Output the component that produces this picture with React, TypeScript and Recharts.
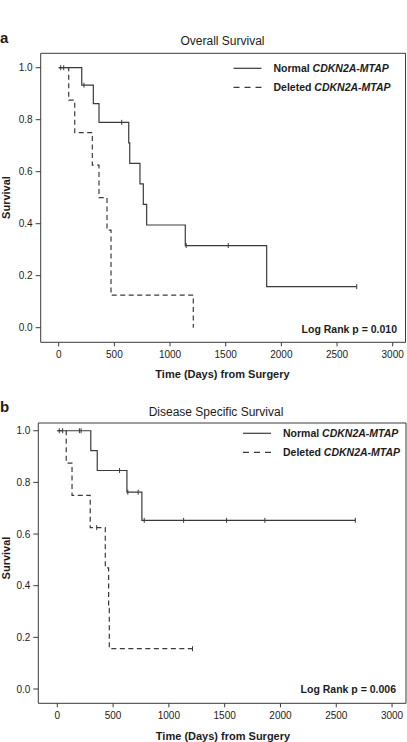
import React from 'react';
import { ComposedChart, Line, Scatter, XAxis, YAxis, ReferenceArea } from 'recharts';

// ---------- shared axis / label data ----------
const xTicks = [0, 500, 1000, 1500, 2000, 2500, 3000];
const yTicks = [0, 0.2, 0.4, 0.6, 0.8, 1.0];
const groupNames = ['Normal', 'Deleted'];
const geneName = 'CDKN2A-MTAP';
const panelLetters = ['a', 'b'];
const panelTitles = ['Overall Survival', 'Disease Specific Survival'];
const pValues = ['0.010', '0.006'];
const xAxisTitle = 'Time (Days) from Surgery';
const yAxisTitle = 'Survival';

// ---------- panel a: overall survival ----------
const aNormalTime = [0, 207, 311, 362, 629, 638, 730, 760, 790, 1137, 1868, 2677];
const aNormalSurv = [1, 0.933, 0.862, 0.79, 0.711, 0.632, 0.553, 0.474, 0.395, 0.316, 0.158, 0.158];
const aNormalCensorTime = [18, 45, 227, 566, 1145, 1523, 2677];
const aNormalCensorSurv = [1, 1, 0.933, 0.79, 0.316, 0.316, 0.158];
const aDeletedTime = [0, 90, 144, 302, 362, 434, 470, 1209];
const aDeletedSurv = [1, 0.875, 0.75, 0.625, 0.5, 0.375, 0.125, 0];
const aDeletedCensorTime: number[] = [];
const aDeletedCensorSurv: number[] = [];

// ---------- panel b: disease specific survival ----------
const bNormalTime = [0, 300, 358, 624, 758, 2671];
const bNormalSurv = [1, 0.923, 0.846, 0.762, 0.653, 0.653];
const bNormalCensorTime = [18, 48, 198, 213, 558, 632, 725, 779, 1132, 1517, 1860, 2671];
const bNormalCensorSurv = [1, 1, 1, 1, 0.846, 0.762, 0.762, 0.653, 0.653, 0.653, 0.653, 0.653];
const bDeletedTime = [0, 80, 132, 295, 430, 460, 466, 1212];
const bDeletedSurv = [1, 0.875, 0.75, 0.625, 0.469, 0.3125, 0.156, 0.156];
const bDeletedCensorTime = [353, 1212];
const bDeletedCensorSurv = [0.625, 0.156];

const zip = (t: number[], s: number[]) => t.map((v, i) => ({ t: v, s: s[i] }));

const FONT = '"Liberation Sans", Arial, Helvetica, sans-serif';
const INK = '#1c1c1c';
const LINE = '#3a3a3a';
const DASH = '5 3.5';

const Censor = (props: any) => {
  const { cx, cy } = props;
  if (cx == null || cy == null) return null;
  return <path d={`M${cx},${cy - 2.5}V${cy + 2.5}`} stroke={LINE} strokeWidth={1} />;
};

type PanelProps = {
  top: number;
  height: number;
  margin: { top: number; right: number; bottom: number; left: number };
  yAxisWidth: number;
  xDomain: [number, number];
  yDomain: [number, number];
  normal: { t: number; s: number }[];
  normalCensor: { t: number; s: number }[];
  deleted: { t: number; s: number }[];
  deletedCensor: { t: number; s: number }[];
};

const tickStyle = { fontSize: 10, fill: INK, fontFamily: FONT };

function Panel(p: PanelProps) {
  return (
    <div style={{ position: 'absolute', left: 0, top: p.top }}>
      <ComposedChart width={407} height={p.height} margin={p.margin}>
        <XAxis
          type="number"
          dataKey="t"
          domain={p.xDomain}
          allowDataOverflow
          ticks={xTicks}
          interval={0}
          axisLine={false}
          tickLine={{ stroke: LINE }}
          tickSize={4}
          tickMargin={5}
          height={30}
          tick={tickStyle}
        />
        <YAxis
          type="number"
          dataKey="s"
          domain={p.yDomain}
          allowDataOverflow
          ticks={yTicks}
          interval={0}
          axisLine={false}
          tickLine={{ stroke: LINE }}
          tickSize={5}
          tickMargin={3}
          width={p.yAxisWidth}
          tick={tickStyle}
          tickFormatter={(v: number) => v.toFixed(1)}
        />
        <ReferenceArea
          x1={p.xDomain[0]}
          x2={p.xDomain[1]}
          y1={p.yDomain[0]}
          y2={p.yDomain[1]}
          fill="none"
          fillOpacity={0}
          stroke={LINE}
          strokeWidth={1}
          ifOverflow="visible"
        />
        <Line
          data={p.normal}
          dataKey="s"
          type="stepAfter"
          stroke={LINE}
          strokeWidth={1.2}
          dot={false}
          activeDot={false}
          isAnimationActive={false}
        />
        <Line
          data={p.deleted}
          dataKey="s"
          type="stepAfter"
          stroke={LINE}
          strokeWidth={1.2}
          strokeDasharray={DASH}
          dot={false}
          activeDot={false}
          isAnimationActive={false}
        />
        <Scatter data={p.normalCensor} dataKey="s" shape={<Censor />} isAnimationActive={false} />
        <Scatter data={p.deletedCensor} dataKey="s" shape={<Censor />} isAnimationActive={false} />
      </ComposedChart>
    </div>
  );
}

function LegendBlock({ x, y }: { x: number; y: number }) {
  return (
    <g>
      {groupNames.map((name, i) => (
        <g key={name}>
          <line
            x1={x}
            x2={x + 28}
            y1={y + i * 19}
            y2={y + i * 19}
            stroke={LINE}
            strokeWidth={1.2}
            strokeDasharray={i === 1 ? '6 5' : undefined}
          />
          <text x={x + 40} y={y + i * 19 + 3.7} fontSize={10.5} fontWeight="bold" fill={INK} fontFamily={FONT}>
            {name + ' '}
            <tspan fontStyle="italic">{geneName}</tspan>
          </text>
        </g>
      ))}
    </g>
  );
}

export default function App() {
  return (
    <div style={{ position: 'absolute', left: 0, top: 0, width: 407, height: 742, background: '#fff' }}>
      <Panel
        top={0}
        height={400}
        margin={{ top: 53.3, right: 1.5, bottom: 27.7, left: 0 }}
        yAxisWidth={40.7}
        xDomain={[-161.7, 3115]}
        yDomain={[-0.0562, 1.0554]}
        normal={zip(aNormalTime, aNormalSurv)}
        normalCensor={zip(aNormalCensorTime, aNormalCensorSurv)}
        deleted={zip(aDeletedTime, aDeletedSurv)}
        deletedCensor={zip(aDeletedCensorTime, aDeletedCensorSurv)}
      />
      <Panel
        top={380}
        height={362}
        margin={{ top: 43, right: 1, bottom: 8.7, left: 0 }}
        yAxisWidth={38.3}
        xDomain={[-170.3, 3125]}
        yDomain={[-0.0554, 1.030]}
        normal={zip(bNormalTime, bNormalSurv)}
        normalCensor={zip(bNormalCensorTime, bNormalCensorSurv)}
        deleted={zip(bDeletedTime, bDeletedSurv)}
        deletedCensor={zip(bDeletedCensorTime, bDeletedCensorSurv)}
      />
      <svg
        width={407}
        height={742}
        style={{ position: 'absolute', left: 0, top: 0, pointerEvents: 'none' }}
      >
        {/* panel a texts */}
        <text x={0} y={43} fontSize={15} fontWeight="bold" fill={INK} fontFamily={FONT}>{panelLetters[0]}</text>
        <text x={222.5} y={45} fontSize={12} textAnchor="middle" fill={INK} fontFamily={FONT}>{panelTitles[0]}</text>
        <LegendBlock x={233.5} y={68.3} />
        <text x={397} y={332.7} fontSize={10.5} fontWeight="bold" textAnchor="end" fill={INK} fontFamily={FONT}>
          {'Log Rank p = ' + pValues[0]}
        </text>
        <text x={222.5} y={378.3} fontSize={11} fontWeight="bold" textAnchor="middle" fill={INK} fontFamily={FONT}>{xAxisTitle}</text>
        <text x={9.5} y={197.5} fontSize={11} fontWeight="bold" textAnchor="middle" fill={INK} fontFamily={FONT} transform="rotate(-90 9.5 197.5)">{yAxisTitle}</text>

        {/* panel b texts */}
        <text x={0} y={412} fontSize={15} fontWeight="bold" fill={INK} fontFamily={FONT}>{panelLetters[1]}</text>
        <text x={216} y={416} fontSize={12} textAnchor="middle" fill={INK} fontFamily={FONT}>{panelTitles[1]}</text>
        <LegendBlock x={243} y={433.3} />
        <text x={396} y={692.7} fontSize={10.5} fontWeight="bold" textAnchor="end" fill={INK} fontFamily={FONT}>
          {'Log Rank p = ' + pValues[1]}
        </text>
        <text x={223} y={740.3} fontSize={11} fontWeight="bold" textAnchor="middle" fill={INK} fontFamily={FONT}>{xAxisTitle}</text>
        <text x={9.5} y={558} fontSize={11} fontWeight="bold" textAnchor="middle" fill={INK} fontFamily={FONT} transform="rotate(-90 9.5 558)">{yAxisTitle}</text>
      </svg>
    </div>
  );
}
